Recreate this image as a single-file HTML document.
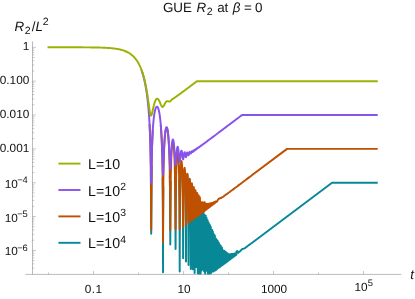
<!DOCTYPE html><html><head><meta charset="utf-8"><title>GUE R2</title><style>html,body{margin:0;padding:0;background:#fff}body{width:415px;height:299px;overflow:hidden;position:relative}</style></head><body>
<svg width="415" height="299" viewBox="0 0 415 299" style="position:absolute;left:0;top:0">
<rect width="415" height="299" fill="#fff"/>
<clipPath id="pc"><rect x="0" y="0" width="415" height="274.55"/></clipPath>
<g fill="none" stroke-width="1.95" stroke-linejoin="round" stroke-linecap="butt" clip-path="url(#pc)">
<path d="M150.84,169.82L151.21,233.70L151.65,165.56M162.65,177.56L162.87,204.20L163.03,272.20L163.09,228.84L163.32,186.72M169.80,175.47L169.95,186.81L170.11,205.22L170.29,244.50L170.42,215.87L170.57,193.11L170.72,180.80M175.02,176.96L175.14,184.28L175.26,194.09L175.38,208.88L175.50,239.47L175.56,249.00L175.61,245.06L175.73,211.47L175.85,196.48L175.96,186.89L176.08,179.92M179.14,179.10L179.24,184.46L179.33,191.13L179.43,199.89L179.53,212.45L179.62,234.69L179.71,271.40L179.81,228.28L179.91,209.90L180.00,198.92L180.09,191.18L180.19,185.29L180.28,180.61L180.37,176.79M182.37,174.86L182.46,177.87L182.54,181.38L182.62,185.54L182.70,190.53L182.78,196.69L182.86,204.63L182.94,215.63L183.03,233.38L183.12,258.20L183.18,245.24L183.26,222.11L183.34,209.51L183.42,200.94L183.50,194.53L183.58,189.49L183.66,185.39L183.73,182.00L183.81,179.17L183.89,176.78L183.96,174.78M185.15,174.47L185.22,176.28L185.29,178.39L185.36,180.83L185.43,183.68L185.50,187.00L185.57,190.91L185.64,195.60L185.71,201.33L185.78,208.60L185.85,218.41L185.92,233.28L185.99,261.50L186.03,261.50L186.06,261.50L186.13,233.78L186.20,219.20L186.27,209.70L186.33,202.73L186.40,197.31L186.47,192.94L186.53,189.33L186.60,186.32L186.67,183.78L186.73,181.65L186.80,179.85L186.87,178.35L186.93,177.11L187.00,176.12L187.06,175.35L187.13,174.79L187.19,174.43L187.26,174.27L187.32,174.29L187.39,174.50L187.45,174.90L187.51,175.49L187.58,176.28L187.64,177.28L187.70,178.49L187.77,179.94L187.83,181.65L187.89,183.64L187.95,185.96L188.02,188.66L188.08,191.81L188.14,195.52L188.20,199.92L188.26,205.28L188.32,212.00L188.39,220.86L188.45,233.69L188.51,256.47L188.55,265.00L188.63,245.41L188.69,228.35L188.75,217.77L188.81,210.19L188.87,204.37L188.93,199.71L188.98,195.89L189.04,192.70L189.10,190.02L189.16,187.75L189.22,185.84L189.28,184.24L189.34,182.92L189.39,181.84L189.45,180.99L189.51,180.35L189.57,179.92L189.62,179.68L189.68,179.63L189.74,179.77L189.79,180.10L189.85,180.61L189.91,181.33L189.96,182.25L190.02,183.38L190.08,184.74L190.13,186.36L190.19,188.25L190.24,190.45L190.30,193.02L190.35,196.01L190.41,199.52L190.46,203.69L190.52,208.72L190.57,214.95L190.63,223.04L190.68,234.32L190.73,252.61L190.79,269.00L190.84,257.34L190.90,237.21L190.95,225.37L191.00,217.12L191.06,210.87L191.11,205.91L191.16,201.86L191.21,198.49L191.27,195.66L191.32,193.27L191.37,191.25L191.42,189.55L191.48,188.13L191.53,186.97L191.58,186.05L191.63,185.34L191.68,184.83L191.73,184.52L191.79,184.41L191.84,184.48L191.89,184.74L191.94,185.19L191.99,185.83L192.04,186.68L192.09,187.74L192.14,189.02L192.19,190.54L192.24,192.34L192.29,194.44L192.34,196.88L192.39,199.73L192.44,203.06L192.49,207.01L192.54,211.74L192.59,217.56L192.64,224.98L192.69,235.05L192.73,250.34L192.78,269.30L192.80,269.30L192.83,269.30L192.88,245.94L192.93,232.66L192.98,223.65L193.02,216.94L193.07,211.66L193.12,207.37L193.17,203.82L193.22,200.84L193.26,198.32L193.31,196.19L193.36,194.39L193.40,192.89L193.45,191.65L193.50,190.65L193.55,189.86L193.59,189.29L193.64,188.92L193.69,188.74L193.73,188.74L193.78,188.94L193.82,189.33L193.87,189.90L193.92,190.68L193.96,191.66L194.01,192.87L194.05,194.31L194.10,196.02L194.14,198.01L194.19,200.34L194.23,203.05L194.28,206.23L194.32,209.97L194.37,214.44L194.41,219.88L194.46,226.74L194.50,235.81L194.55,248.95L194.59,270.98L194.62,273.00L194.64,273.00L194.68,254.64L194.72,239.73L194.77,229.89L194.81,222.67L194.86,217.05L194.90,212.51L194.94,208.77L194.99,205.64L195.03,202.99L195.07,200.75L195.12,198.86L195.16,197.27L195.20,195.95L195.25,194.87L195.29,194.02L195.33,193.38L195.37,192.94L195.42,192.70L195.46,192.64L195.50,192.78L195.54,193.10L195.59,193.61L195.63,194.32L195.67,195.24L195.71,196.37L195.75,197.74L195.80,199.36L195.84,201.26L195.88,203.48L195.92,206.06L195.96,209.08L196.00,212.64L196.04,216.86L196.09,221.97L196.13,228.33L196.17,236.59L196.21,248.08L196.25,265.97L196.29,267.00L196.33,263.22L196.37,246.65L196.41,235.90L196.45,228.14L196.49,222.16L196.53,217.36L196.57,213.42L196.61,210.13L196.65,207.35L196.69,205.00L196.73,203.01L196.77,201.33L196.81,199.93L196.85,198.78L196.89,197.86L196.93,197.16L196.97,196.66L197.01,196.35L197.05,196.24L197.09,196.31L197.12,196.57L197.16,197.03L197.20,197.67L197.24,198.52L197.28,199.58L197.32,200.87L197.36,202.41L197.39,204.22L197.43,206.33L197.47,208.80L197.51,211.68L197.55,215.06L197.59,219.06L197.62,223.87L197.66,229.79L197.70,237.35L197.74,247.55L197.78,262.53L197.82,273.50L197.85,271.19L197.89,253.43L197.93,241.73L197.96,233.39L198.00,227.03L198.04,221.97L198.07,217.82L198.11,214.36L198.15,211.45L198.19,208.99L198.22,206.90L198.26,205.14L198.30,203.66L198.33,202.43L198.37,201.45L198.41,200.68L198.44,200.11L198.48,199.75L198.49,199.67L198.51,199.58L198.55,199.59L198.59,199.79L198.62,200.19L198.66,200.77L198.69,201.56L198.73,202.55L198.77,203.77L198.80,205.22L198.84,206.95L198.87,208.96L198.91,211.32L198.94,214.06L198.98,217.28L199.02,221.07L199.05,225.60L199.09,231.14L199.12,238.09L199.16,247.24L199.19,260.09L199.23,274.30L199.24,266.77L199.92,207.80L200.57,274.30L201.22,206.97L201.81,270.40L202.39,208.21L202.98,269.07L203.56,212.10L204.08,271.26L204.60,215.29L205.12,274.30L205.64,215.47L206.11,269.29L206.55,217.68L207.05,270.96L207.46,219.86L207.95,274.30L208.37,222.00L208.81,274.28L209.28,223.97L209.64,270.64L210.06,225.24L210.43,273.69L210.84,227.00L211.19,272.85L211.49,230.53L211.92,271.02L212.27,229.91L212.62,271.48L212.92,231.69L213.30,271.59L213.57,233.66L213.96,270.62L214.22,234.90L214.59,270.87L214.87,235.49L215.21,270.00L215.52,240.43L215.81,270.01L216.04,238.66L216.38,269.62L216.69,240.37L216.95,269.18L217.21,240.17L217.49,267.91L217.73,241.00L218.03,267.92L218.25,242.61L218.54,267.74L218.77,242.75L219.05,266.99L219.29,247.31L219.54,267.17L219.81,244.60L220.02,266.94L220.20,246.30L220.49,266.47L220.72,245.60L220.94,265.87L221.11,248.04L221.39,265.69L221.63,247.15L221.83,265.61L222.02,247.76L222.26,265.29L222.41,251.27L222.67,264.92L222.93,250.21L223.08,264.45L223.32,250.68L223.48,264.28L223.71,252.76L223.88,264.07L224.10,250.60L224.26,263.63L224.49,251.68L224.64,263.47L224.88,252.67L225.01,263.18L225.14,252.71L225.37,262.94L225.53,251.74L225.73,262.64L225.92,252.09L226.08,262.26L226.31,254.00L226.43,262.11L226.57,253.10L226.76,261.84L226.96,253.64L227.10,261.64L227.22,253.65L227.42,261.40L227.61,253.31L227.74,261.08L227.87,253.73L228.06,260.89L228.26,254.30L228.37,260.68L228.52,254.81L228.68,260.44L228.78,254.92L228.98,260.18L229.17,254.50L229.28,259.99L229.43,254.26L229.57,259.75L229.69,255.10L229.86,259.57L229.95,255.27L230.14,259.34L230.34,255.49L230.42,259.12L230.60,254.67L230.70,258.91L230.86,254.24L230.97,258.73L231.12,254.05L231.24,258.53L231.38,254.00L231.51,258.30L231.64,253.99L231.77,258.13L231.90,254.59L232.03,257.94L232.16,253.99L232.28,257.70L232.42,254.04L232.53,257.52L232.68,254.46L232.78,257.35L232.94,254.54L233.03,257.18L233.20,255.09L233.27,256.98L233.33,255.19L233.51,256.79L233.59,254.32L233.74,256.65L233.85,253.77L233.98,256.47L234.11,253.83L234.21,256.28L234.37,254.57L234.43,256.12L234.50,254.45L234.66,255.94L234.76,253.54L234.88,255.79L235.02,253.72L235.10,255.61L235.15,254.66L235.32,255.46L235.41,253.41L235.54,255.29L235.67,253.49L235.75,255.12L235.80,254.12L235.96,254.98L236.06,253.06L236.17,254.82L236.32,253.73L236.37,254.67L236.50,251.48L237.28,250.93L238.16,252.85L239.72,251.48L240.23,251.14L241.20,250.05L242.41,248.98L243.13,248.90L244.60,248.28L245.17,247.94L246.15,247.13L247.70,246.03L248.43,245.37L249.68,244.64L250.66,243.73L251.56,243.24L251.83,243.04L332.05,182.70L377.72,182.70" stroke="#088896"/>
<path d="M149.55,124.13L149.99,133.64L150.42,146.91L150.84,169.77L151.21,230.00L151.65,165.51L152.05,147.56L152.43,137.17L152.81,130.03M160.74,124.84L160.99,128.02L161.23,131.64L161.47,135.83L161.71,140.73L161.95,146.61L162.19,153.91L162.42,163.48L162.65,177.39L162.87,203.15L163.03,242.14L163.09,223.87L163.32,186.38L163.53,170.49L163.75,160.61L163.96,153.58L164.17,148.22L164.38,143.99L164.59,140.56L164.79,137.75L165.00,135.43L165.20,133.52L165.40,131.95L165.59,130.68L165.79,129.67L165.98,128.91L166.17,128.37L166.36,128.03L166.55,127.90L166.73,127.95L166.91,128.19L167.10,128.61L167.28,129.21L167.46,130.00L167.63,130.98L167.81,132.16L167.98,133.55L168.15,135.16L168.32,137.02L168.49,139.15L168.66,141.58L168.83,144.37L168.99,147.58L169.16,151.29L169.32,155.63L169.48,160.81L169.64,167.16L169.80,175.25L169.95,186.33L170.11,203.62L170.29,230.00L170.42,212.69L170.57,192.37L170.72,180.47L170.87,172.26L171.02,166.12L171.17,161.29L171.31,157.39L171.46,154.18L171.60,151.52L171.75,149.30L171.89,147.45L172.03,145.92L172.17,144.68L172.31,143.69L172.45,142.93L172.58,142.39L172.72,142.06L172.85,141.91L172.99,141.96L173.12,142.19L173.25,142.61L173.39,143.22L173.52,144.01L173.65,145.00L173.78,146.20L173.90,147.62L174.03,149.28L174.16,151.19L174.28,153.40L174.41,155.95L174.53,158.88L174.66,162.27L174.78,166.24L174.90,170.95L175.02,176.64L175.14,183.76L175.26,193.09L175.38,206.27L175.50,225.64L175.56,229.00L175.61,227.51L175.73,208.36L175.85,195.28L175.96,186.24L176.08,179.51L176.19,174.25L176.30,170.00L176.42,166.51L176.53,163.60L176.64,161.17L176.75,159.13L176.86,157.42L176.97,156.01L177.08,154.87L177.19,153.96L177.30,153.28L177.40,152.81L177.51,152.53L177.62,152.44L177.72,152.55L177.83,152.83L177.93,153.31L178.03,153.97L178.14,154.83L178.24,155.89L178.34,157.17L178.44,158.67L178.54,160.43L178.64,162.47L178.74,164.82L178.84,167.54L178.94,170.68L179.04,174.34L179.14,178.65L179.24,183.81L179.33,190.13L179.43,198.10L179.53,208.53L179.62,221.85L179.71,229.59L179.81,218.77L179.91,206.48L180.00,197.19L180.09,190.13L180.19,184.58L180.28,180.09L180.37,176.38L180.46,173.29L180.55,170.69L180.64,168.50L180.73,166.66L180.82,165.12L180.91,163.86L181.00,162.84L181.09,162.04L181.18,161.46L181.27,161.08L181.35,160.89L181.44,160.89L181.53,161.08L181.61,161.45L181.70,162.01L181.79,162.75L181.87,163.70L181.96,164.86L182.04,166.24L182.12,167.87L182.21,169.76L182.29,171.94L182.37,174.46L182.46,177.38L182.54,180.76L182.62,184.72L182.70,189.38L182.78,194.98L182.86,201.79L182.94,210.15L183.03,219.81L183.12,227.02L183.18,223.36L183.26,214.19L183.34,205.61L183.42,198.63L183.50,192.99L183.58,188.37L183.66,184.53L183.73,181.32L183.81,178.60L183.89,176.29L183.96,174.35L184.04,172.71L184.12,171.35L184.19,170.24L184.27,169.35L184.34,168.68L184.42,168.21L184.49,167.94L184.56,167.85L184.64,167.95L184.71,168.23L184.79,168.70L184.86,169.35L184.93,170.20L185.00,171.26L185.08,172.52L185.15,174.02L185.22,175.78L185.29,177.80L185.36,180.15L185.43,182.84L185.50,185.96L185.57,189.56L185.64,193.76L185.71,198.69L185.78,204.47L185.85,211.19L185.92,218.42L185.99,223.99L186.03,224.84L186.06,223.96L186.13,218.50L186.20,211.57L186.27,205.20L186.33,199.77L186.40,195.19L186.47,191.33L186.53,188.05L186.60,185.27L186.67,182.89L186.73,180.87L186.80,179.16L186.87,177.72L186.93,176.53L187.00,175.58L187.06,174.83L187.13,174.29L187.19,173.94L187.26,173.78L187.32,173.80L187.39,174.00L187.45,174.39L187.51,174.95L187.58,175.71L187.64,176.67L187.70,177.83L187.77,179.21L187.83,180.83L187.89,182.70L187.95,184.87L188.02,187.35L188.08,190.20L188.14,193.46L188.20,197.21L188.26,201.50L188.32,206.39L188.39,211.80L188.45,217.32L188.51,221.67L188.55,222.94L188.63,220.13L188.69,215.24L188.75,209.94L188.81,205.02L188.87,200.69L188.93,196.94L188.98,193.70L189.04,190.91L189.10,188.50L189.16,186.44L189.22,184.68L189.28,183.19L189.34,181.95L189.39,180.94L189.45,180.13L189.51,179.53L189.57,179.12L189.62,178.89L189.68,178.84L189.74,178.97L189.79,179.28L189.85,179.77L189.91,180.44L189.96,181.30L190.02,182.35L190.08,183.62L190.13,185.10L190.19,186.83L190.24,188.81L190.30,191.07L190.35,193.66L190.41,196.58L190.46,199.89L190.52,203.60L190.57,207.70L190.63,212.07L190.68,216.35L190.73,219.78L190.79,221.25L190.84,220.14L190.90,217.03L190.95,213.00L191.00,208.85L191.06,204.96L191.11,201.45L191.16,198.35L191.21,195.63L191.27,193.25L191.32,191.19L191.37,189.42L191.42,187.91L191.48,186.63L191.53,185.57L191.58,184.73L191.63,184.07L191.68,183.61L191.73,183.32L191.79,183.21L191.84,183.27L191.89,183.51L191.94,183.92L191.99,184.51L192.04,185.27L192.09,186.22L192.14,187.37L192.19,188.73L192.24,190.30L192.29,192.10L192.34,194.15L192.39,196.47L192.44,199.07L192.49,201.96L192.54,205.14L192.59,208.56L192.64,212.10L192.69,215.47L192.73,218.19L192.78,219.63L192.80,219.74L192.83,219.37L192.88,217.53L192.93,214.67L192.98,211.39L193.02,208.07L193.07,204.94L193.12,202.07L193.17,199.50L193.22,197.21L193.26,195.20L193.31,193.45L193.36,191.94L193.40,190.65L193.45,189.58L193.50,188.70L193.55,188.01L193.59,187.50L193.64,187.16L193.69,187.00L193.73,187.00L193.78,187.17L193.82,187.51L193.87,188.01L193.92,188.69L193.96,189.54L194.01,190.57L194.05,191.79L194.10,193.21L194.14,194.83L194.19,196.67L194.23,198.73L194.28,201.01L194.32,203.52L194.37,206.23L194.41,209.08L194.46,211.95L194.50,214.64L194.55,216.82L194.59,218.13L194.62,218.37L194.64,218.29L194.68,217.27L194.72,215.34L194.77,212.87L194.81,210.18L194.86,207.49L194.90,204.94L194.94,202.58L194.99,200.44L195.03,198.52L195.07,196.83L195.12,195.35L195.16,194.08L195.20,193.00L195.25,192.11L195.29,191.39L195.33,190.85L195.37,190.48L195.42,190.27L195.46,190.22L195.50,190.33L195.54,190.59L195.59,191.02L195.63,191.61L195.67,192.36L195.71,193.28L195.75,194.37L195.80,195.63L195.84,197.08L195.88,198.71L195.92,200.52L195.96,202.51L196.00,204.67L196.04,206.96L196.09,209.33L196.13,211.68L196.17,213.84L196.21,215.62L196.25,216.77L196.29,217.12L196.33,216.61L196.37,215.35L196.41,213.55L196.45,211.45L196.49,209.23L196.53,207.03L196.57,204.94L196.61,202.99L196.65,201.21L196.69,199.61L196.73,198.19L196.77,196.96L196.81,195.90L196.85,195.01L196.89,194.29L196.93,193.72L196.97,193.32L197.01,193.07L197.05,192.97L197.09,193.03L197.12,193.23L197.16,193.58L197.20,194.09L197.24,194.74L197.28,195.55L197.32,196.51L197.36,197.63L197.39,198.90L197.43,200.33L197.47,201.92L197.51,203.64L197.55,205.49L197.59,207.42L197.62,209.39L197.66,211.31L197.70,213.08L197.74,214.53L197.78,215.54L197.82,215.97L197.85,215.75L197.89,214.95L197.93,213.68L197.96,212.08L198.00,210.30L198.04,208.46L198.07,206.65L198.11,204.92L198.15,203.31L198.19,201.83L198.22,200.50L198.26,199.33L198.30,198.31L198.33,197.44L198.37,196.72L198.38,196.52L198.41,196.15L198.44,195.73L198.48,195.45L198.51,195.31L198.55,195.32L198.59,195.46L198.62,195.75L198.66,196.17L198.69,196.73L198.73,197.43L198.77,198.27L198.80,199.25L198.84,200.37L198.87,201.61L198.91,202.98L198.94,204.46L198.98,206.03L199.02,207.66L199.05,209.30L199.09,210.89L199.12,212.34L199.16,213.54L199.19,214.41L199.23,214.85L199.24,214.87L199.88,197.27L200.57,213.89L201.08,202.18L201.81,212.95L202.28,202.32L202.98,212.07L203.48,202.47L204.08,211.24L204.68,202.34L205.12,210.46L205.58,204.63L206.11,209.73L206.48,203.72L207.05,209.01L207.38,204.22L207.95,208.34L208.28,203.79L208.81,207.69L209.18,204.82L209.64,207.08L210.08,203.26L210.43,206.48L210.68,203.84L211.19,205.91L211.58,202.94L211.92,205.36L212.18,203.09L212.62,204.83L213.08,202.96L213.30,204.32L213.68,202.31L213.96,203.83L214.28,201.96L214.59,203.35L215.15,202.62L215.94,201.24L216.38,202.01L217.41,200.83L218.34,199.14L218.81,198.76L219.71,198.52L220.66,197.96L221.47,197.95L222.13,197.21L223.02,196.88L223.83,196.34L224.48,195.48L225.43,195.12L226.19,194.40L227.05,193.93L227.76,193.44L228.48,192.76L229.32,192.24L230.36,191.43L230.80,191.05L231.58,190.50L232.32,190.00L233.52,189.11L234.39,188.44L234.83,188.10L235.64,187.47L236.41,186.93L237.40,186.19L238.15,185.63L239.11,184.90L239.61,184.52L240.74,183.68L241.34,183.22L242.30,182.50L243.10,181.91L243.95,181.27L244.55,180.81L245.41,180.17L246.18,179.59L246.80,179.12L247.75,178.40L248.76,177.65L249.55,177.05L249.92,176.77L251.03,175.94L251.67,175.46L251.83,175.34L287.05,148.85L377.72,148.85" stroke="#be5000"/>
<path d="M141.47,70.18L142.06,71.87L142.70,73.88L143.32,76.03L143.93,78.32L144.51,80.78L145.08,83.42L145.63,86.27L146.16,89.35L146.68,92.72L147.19,96.42L147.69,100.53L148.17,105.14L148.64,110.40L149.10,116.53L149.55,123.90L149.99,133.18L150.42,145.78L150.84,164.97L151.21,183.33L151.65,161.64L152.05,146.29L152.43,136.51L152.81,129.61L153.19,124.44L153.55,120.41L153.91,117.21L154.26,114.63L154.61,112.54L154.95,110.86L155.28,109.52L155.61,108.47L155.93,107.69L156.25,107.14L156.56,106.81L156.87,106.67L157.17,106.73L157.47,106.96L157.77,107.37L158.06,107.96L158.34,108.71L158.62,109.64L158.90,110.75L159.17,112.04L159.44,113.52L159.71,115.21L159.97,117.12L160.23,119.27L160.48,121.69L160.74,124.41L160.99,127.47L161.23,130.94L161.47,134.89L161.71,139.42L161.95,144.67L162.19,150.81L162.42,157.96L162.65,165.89L162.87,172.72L163.03,174.44L163.09,174.03L163.32,168.99L163.53,162.04L163.75,155.65L163.96,150.28L164.17,145.84L164.38,142.14L164.59,139.07L164.79,136.49L165.00,134.34L165.20,132.54L165.40,131.06L165.59,129.85L165.79,128.89L165.98,128.16L166.17,127.64L166.36,127.32L166.55,127.18L166.73,127.22L166.91,127.44L167.10,127.84L167.28,128.40L167.46,129.14L167.63,130.05L167.81,131.15L167.98,132.43L168.15,133.91L168.32,135.59L168.49,137.50L168.66,139.64L168.83,142.04L168.99,144.70L169.16,147.65L169.32,150.90L169.48,154.42L169.64,158.14L169.80,161.90L169.95,165.35L170.11,167.90L170.29,168.98L170.42,168.29L170.57,166.20L170.72,163.32L170.87,160.18L171.02,157.11L171.17,154.25L171.31,151.68L171.46,149.40L171.60,147.40L171.75,145.67L171.89,144.19L172.03,142.93L172.17,141.89L172.31,141.05L172.45,140.40L172.58,139.93L172.72,139.63L172.85,139.49L172.99,139.52L173.12,139.70L173.25,140.03L173.39,140.52L173.52,141.16L173.65,141.96L173.78,142.90L173.90,144.01L174.03,145.26L174.16,146.67L174.28,148.24L174.41,149.95L174.53,151.80L174.66,153.76L174.78,155.80L174.90,157.88L175.02,159.89L175.14,161.75L175.26,163.31L175.38,164.42L175.50,164.97L175.56,165.01L175.61,164.91L175.73,164.28L175.85,163.19L175.96,161.77L176.08,160.18L176.19,158.51L176.30,156.87L176.42,155.29L176.53,153.82L176.64,152.48L176.75,151.28L176.86,150.23L176.97,149.32L177.08,148.55L177.19,147.93L177.30,147.45L177.40,147.10L177.51,146.89L177.62,146.80L177.72,146.85L177.83,147.02L177.93,147.31L178.03,147.72L178.14,148.24L178.24,148.89L178.34,149.63L178.44,150.49L178.54,151.43L178.64,152.46L178.74,153.57L178.84,154.72L178.94,155.91L179.04,157.10L179.14,158.25L179.24,159.32L179.33,160.26L179.43,161.02L179.53,161.56L179.62,161.85L179.71,161.89L179.81,161.66L179.91,161.20L180.00,160.55L180.09,159.76L180.19,158.87L180.28,157.93L180.37,156.97L180.46,156.04L180.55,155.14L180.64,154.30L180.73,153.53L180.82,152.84L180.91,152.24L181.00,151.74L181.09,151.32L181.18,151.01L181.27,150.78L181.35,150.66L181.44,150.62L181.53,150.68L181.61,150.83L181.70,151.07L181.79,151.38L181.87,151.78L181.96,152.24L182.04,152.78L182.12,153.36L182.21,154.00L182.29,154.67L182.37,155.36L182.46,156.05L182.54,156.72L182.62,157.36L182.70,157.94L182.78,158.45L182.86,158.85L182.94,159.14L183.03,159.30L183.12,159.32L183.18,159.24L183.26,159.02L183.34,158.69L183.42,158.27L183.50,157.78L183.58,157.24L183.66,156.68L183.73,156.10L183.81,155.52L183.89,154.97L183.96,154.45L184.04,153.96L184.12,153.53L184.19,153.15L184.27,152.83L184.34,152.57L184.42,152.38L184.49,152.25L184.56,152.18L184.64,152.18L184.71,152.24L184.79,152.36L184.86,152.53L184.93,152.76L185.00,153.03L185.08,153.35L185.15,153.70L185.22,154.08L185.29,154.48L185.36,154.88L185.43,155.28L185.50,155.68L185.57,156.04L185.64,156.37L185.71,156.65L185.78,156.88L185.85,157.04L185.92,157.14L185.99,157.16L186.03,157.14L186.06,157.10L186.13,156.98L186.20,156.80L186.27,156.56L186.33,156.27L186.40,155.95L186.47,155.60L186.53,155.24L186.60,154.87L186.67,154.50L186.73,154.15L186.80,153.82L186.87,153.51L186.93,153.23L187.00,152.99L187.06,152.79L187.13,152.63L187.19,152.51L187.26,152.44L187.32,152.41L187.39,152.42L187.45,152.47L187.51,152.56L187.58,152.68L187.64,152.84L187.70,153.02L187.77,153.23L187.83,153.45L187.89,153.69L187.95,153.93L188.02,154.17L188.08,154.40L188.14,154.61L188.20,154.81L188.26,154.97L188.32,155.10L188.39,155.20L188.45,155.25L188.51,155.26L188.55,155.24L188.63,155.15L188.69,155.04L188.75,154.89L188.81,154.71L188.87,154.50L188.93,154.28L188.98,154.04L189.04,153.79L189.10,153.54L189.16,153.30L189.22,153.07L189.28,152.85L189.34,152.65L189.39,152.47L189.45,152.31L189.51,152.18L189.57,152.08L189.62,152.01L189.68,151.96L189.74,151.95L189.79,151.96L189.85,152.00L189.91,152.06L189.96,152.15L190.02,152.25L190.08,152.37L190.13,152.50L190.19,152.64L190.24,152.79L190.30,152.93L190.35,153.07L190.41,153.20L190.46,153.32L190.52,153.42L190.57,153.50L190.63,153.55L190.68,153.58L190.73,153.58L190.79,153.55L190.84,153.51L190.90,153.43L190.95,153.33L191.00,153.21L191.06,153.07L191.11,152.91L191.16,152.75L191.21,152.58L191.27,152.40L191.32,152.23L191.37,152.06L191.42,151.90L191.48,151.75L191.53,151.61L191.58,151.49L191.63,151.39L191.68,151.30L191.73,151.23L191.79,151.19L191.84,151.16L191.89,151.15L191.94,151.16L191.99,151.19L192.04,151.24L192.09,151.29L192.14,151.36L192.19,151.44L192.24,151.52L192.29,151.61L192.34,151.70L192.39,151.78L192.44,151.86L192.49,151.93L192.54,151.99L192.59,152.03L192.64,152.07L192.69,152.08L192.73,152.08L192.78,152.06L192.80,152.04L192.83,152.02L192.88,151.96L192.93,151.89L192.98,151.80L193.02,151.70L193.07,151.59L193.12,151.47L193.17,151.35L193.22,151.22L193.26,151.09L193.31,150.97L193.36,150.85L193.40,150.73L193.45,150.62L193.50,150.53L193.55,150.44L193.59,150.37L193.64,150.31L193.69,150.26L193.73,150.23L193.78,150.22L193.82,150.21L193.87,150.22L193.92,150.24L193.96,150.26L194.01,150.30L194.05,150.35L194.10,150.39L194.14,150.44L194.19,150.50L194.23,150.55L194.28,150.59L194.32,150.64L194.37,150.67L194.41,150.70L194.46,150.71L194.50,150.72L194.55,150.71L194.59,150.69L194.62,150.67L194.64,150.66L194.68,150.62L194.72,150.56L194.77,150.50L194.81,150.42L194.86,150.34L194.90,150.25L194.94,150.16L194.99,150.06L195.03,149.96L195.07,149.87L195.12,149.77L195.16,149.68L195.20,149.60L195.25,149.52L195.29,149.45L195.33,149.38L195.37,149.33L195.42,149.29L195.46,149.26L195.50,149.23L195.54,149.22L195.59,149.21L195.63,149.22L195.67,149.23L195.71,149.25L195.75,149.27L195.80,149.30L195.84,149.32L195.88,149.35L195.92,149.38L195.96,149.41L196.00,149.44L196.04,149.45L196.09,149.47L196.13,149.47L196.17,149.47L196.21,149.46L196.25,149.45L196.29,149.42L196.33,149.38L196.37,149.34L196.41,149.29L196.45,149.23L196.49,149.17L196.53,149.10L196.57,149.02L196.61,148.95L196.65,148.87L196.69,148.79L196.73,148.72L196.77,148.64L196.81,148.58L196.85,148.51L196.89,148.45L196.93,148.40L196.97,148.35L197.01,148.31L197.05,148.28L197.09,148.25L197.12,148.23L197.16,148.22L197.20,148.22L197.24,148.22L197.28,148.22L197.32,148.23L197.36,148.24L197.39,148.26L197.43,148.27L197.47,148.29L197.51,148.30L197.55,148.32L197.59,148.33L197.62,148.33L197.66,148.33L197.70,148.33L197.74,148.31L197.78,148.30L197.82,148.27L197.85,148.24L197.89,148.21L197.93,148.16L197.96,148.12L198.00,148.07L198.04,148.01L198.07,147.95L198.11,147.89L198.15,147.83L198.19,147.76L198.22,147.70L198.26,147.64L198.30,147.58L198.33,147.53L198.37,147.48L198.41,147.43L198.44,147.39L198.48,147.35L198.49,147.34L198.51,147.32L198.55,147.29L198.59,147.27L198.62,147.26L198.66,147.25L198.69,147.24L198.73,147.24L198.77,147.24L198.80,147.24L198.84,147.25L198.87,147.25L198.91,147.26L198.94,147.27L198.98,147.27L199.02,147.27L199.05,147.27L199.09,147.27L199.12,147.26L199.16,147.25L199.19,147.23L199.23,147.21L199.24,147.20L199.92,146.37L200.57,146.20L201.22,145.46L201.81,145.27L202.39,144.64L202.98,144.39L203.56,143.80L204.08,143.56L204.60,143.04L205.12,142.77L205.64,142.29L206.11,142.03L206.55,141.62L207.05,141.32L207.46,140.95L207.95,140.65L208.37,140.27L208.81,140.00L209.28,139.60L209.64,139.38L210.06,139.02L210.43,138.79L210.84,138.44L211.19,138.21L211.49,137.96L211.92,137.66L212.27,137.37L212.62,137.13L212.92,136.89L213.30,136.62L213.57,136.40L213.96,136.13L214.22,135.92L214.59,135.65L214.87,135.43L215.21,135.19L215.52,134.94L215.81,134.74L216.04,134.55L216.38,134.30L216.69,134.06L216.95,133.88L217.21,133.67L217.49,133.47L217.73,133.28L218.03,133.07L218.39,132.78L219.03,132.31L219.64,131.85L220.04,131.56L220.59,131.14L221.15,130.71L221.62,130.36L222.09,130.00L222.61,129.62L223.11,129.24L223.44,128.99L224.01,128.56L224.47,128.22L224.95,127.86L225.54,127.41L225.96,127.10L226.55,126.65L227.04,126.29L227.40,126.02L228.00,125.57L228.48,125.20L229.08,124.75L229.39,124.52L229.92,124.12L230.52,123.67L230.99,123.32L231.57,122.88L231.97,122.58L232.43,122.24L233.15,121.69L233.44,121.47L233.91,121.12L234.45,120.71L234.97,120.32L235.43,119.97L236.03,119.53L236.65,119.06L236.90,118.87L237.49,118.43L238.07,117.99L238.63,117.57L239.17,117.17L239.41,116.98L240.03,116.52L240.63,116.06L240.88,115.88L241.54,115.38L241.92,115.10L242.05,115.00L242.60,115.00L243.15,115.00L243.53,115.00L243.87,115.00L244.39,115.00L244.99,115.00L245.62,115.00L245.94,115.00L246.57,115.00L246.99,115.00L247.45,115.00L248.08,115.00L248.46,115.00L248.98,115.00L249.60,115.00L250.02,115.00L250.60,115.00L251.02,115.00L251.41,115.00L251.83,115.00L377.72,115.00" stroke="#8853ec"/>
<path d="M47.50,47.30L48.09,47.30L48.68,47.30L49.27,47.30L49.86,47.30L50.45,47.30L51.04,47.30L51.63,47.30L52.23,47.30L52.82,47.30L53.41,47.30L54.00,47.30L54.59,47.30L55.18,47.30L55.77,47.30L56.36,47.30L56.95,47.30L57.55,47.30L58.14,47.30L58.73,47.30L59.32,47.30L59.91,47.30L60.50,47.30L61.09,47.30L61.68,47.30L62.27,47.30L62.86,47.30L63.46,47.31L64.05,47.31L64.64,47.31L65.23,47.31L65.82,47.31L66.41,47.31L67.00,47.31L67.59,47.31L68.18,47.31L68.77,47.31L69.37,47.31L69.96,47.31L70.55,47.31L71.14,47.31L71.73,47.31L72.32,47.31L72.91,47.32L73.50,47.32L74.09,47.32L74.69,47.32L75.28,47.32L75.87,47.32L76.46,47.32L77.05,47.32L77.64,47.33L78.23,47.33L78.82,47.33L79.41,47.33L80.00,47.33L80.60,47.34L81.19,47.34L81.78,47.34L82.37,47.34L82.96,47.35L83.55,47.35L84.14,47.35L84.73,47.36L85.32,47.36L85.91,47.36L86.51,47.37L87.10,47.37L87.69,47.38L88.28,47.38L88.87,47.39L89.46,47.39L90.05,47.40L90.64,47.40L91.23,47.41L91.83,47.42L92.42,47.42L93.01,47.43L93.60,47.44L94.19,47.45L94.78,47.46L95.37,47.47L95.96,47.48L96.55,47.49L97.14,47.50L97.74,47.52L98.33,47.53L98.92,47.55L99.51,47.56L100.10,47.58L100.69,47.60L101.28,47.62L101.87,47.64L102.46,47.66L103.05,47.68L103.65,47.70L104.24,47.73L104.83,47.76L105.42,47.79L106.01,47.82L106.60,47.85L107.19,47.88L107.78,47.92L108.37,47.96L108.97,48.00L109.56,48.05L110.15,48.09L110.74,48.14L111.33,48.20L111.92,48.25L112.51,48.31L113.10,48.38L113.69,48.45L114.28,48.52L114.88,48.60L115.47,48.68L116.06,48.77L116.65,48.86L117.24,48.96L117.83,49.06L118.42,49.17L119.01,49.29L119.60,49.42L120.19,49.55L120.79,49.70L121.38,49.85L121.97,50.01L122.56,50.19L123.15,50.37L123.74,50.57L124.33,50.77L124.92,51.00L125.51,51.23L126.11,51.48L126.70,51.75L127.29,52.04L127.88,52.34L128.47,52.67L129.06,53.02L129.65,53.39L130.24,53.78L130.83,54.21L131.42,54.66L132.02,55.14L132.61,55.65L133.20,56.20L133.79,56.79L134.38,57.42L134.97,58.09L135.56,58.81L136.15,59.59L136.74,60.42L137.33,61.31L137.93,62.26L138.52,63.29L139.11,64.40L139.70,65.60L140.29,66.88L140.88,68.28L141.47,69.78L142.06,71.41L142.70,73.34L143.32,75.38L143.93,77.55L144.51,79.84L145.08,82.27L145.63,84.85L146.16,87.58L146.68,90.47L147.19,93.52L147.69,96.72L148.17,100.03L148.64,103.41L149.10,106.75L149.55,109.87L149.99,112.55L150.42,114.51L150.84,115.54L151.21,115.63L151.65,114.82L152.05,113.48L152.43,111.82L152.81,110.06L153.19,108.32L153.55,106.68L153.91,105.19L154.26,103.85L154.61,102.69L154.95,101.68L155.28,100.84L155.61,100.15L155.93,99.59L156.25,99.17L156.56,98.88L156.87,98.71L157.17,98.64L157.47,98.68L157.77,98.82L158.06,99.04L158.34,99.35L158.62,99.73L158.90,100.18L159.17,100.68L159.44,101.23L159.71,101.82L159.97,102.44L160.23,103.06L160.48,103.69L160.74,104.29L160.99,104.87L161.23,105.39L161.47,105.86L161.71,106.25L161.95,106.55L162.19,106.77L162.42,106.88L162.65,106.91L162.87,106.84L163.03,106.74L163.09,106.69L163.32,106.46L163.53,106.17L163.75,105.84L163.96,105.47L164.17,105.08L164.38,104.67L164.59,104.27L164.79,103.87L165.00,103.48L165.20,103.12L165.40,102.78L165.59,102.48L165.79,102.20L165.98,101.96L166.17,101.75L166.36,101.58L166.55,101.44L166.73,101.33L166.91,101.25L167.10,101.20L167.28,101.18L167.46,101.18L167.63,101.20L167.81,101.23L167.98,101.28L168.15,101.33L168.32,101.39L168.49,101.45L168.66,101.51L168.83,101.56L168.99,101.60L169.16,101.62L169.32,101.63L169.48,101.62L169.64,101.60L169.80,101.55L169.95,101.49L170.11,101.38L170.29,101.23L170.42,101.11L170.57,100.95L170.72,100.79L170.87,100.63L171.02,100.46L171.17,100.29L171.31,100.13L171.46,99.97L171.60,99.82L171.75,99.67L171.89,99.54L172.03,99.41L172.17,99.29L172.31,99.18L172.45,99.08L172.58,98.98L172.72,98.89L172.85,98.81L172.99,98.73L173.12,98.66L173.25,98.59L173.39,98.51L173.52,98.44L173.65,98.36L173.78,98.28L173.90,98.20L174.03,98.12L174.16,98.04L174.28,97.96L174.41,97.88L174.53,97.80L174.66,97.72L174.78,97.64L174.90,97.56L175.02,97.48L175.14,97.40L175.26,97.32L175.38,97.24L175.50,97.16L175.56,97.11L175.61,97.07L175.73,96.99L175.85,96.90L175.96,96.82L176.08,96.73L176.19,96.65L176.30,96.57L176.42,96.48L176.53,96.40L176.64,96.31L176.75,96.23L176.86,96.15L176.97,96.06L177.08,95.98L177.19,95.90L177.30,95.82L177.40,95.74L177.51,95.67L177.62,95.59L177.72,95.51L177.83,95.44L177.93,95.36L178.03,95.29L178.14,95.22L178.24,95.15L178.34,95.07L178.44,95.00L178.54,94.93L178.64,94.86L178.74,94.79L178.84,94.72L178.94,94.65L179.04,94.59L179.14,94.52L179.24,94.45L179.33,94.38L179.43,94.31L179.53,94.24L179.62,94.17L179.71,94.11L179.81,94.03L179.91,93.96L180.00,93.89L180.09,93.82L180.19,93.75L180.28,93.68L180.37,93.61L180.46,93.54L180.55,93.47L180.64,93.40L180.73,93.34L180.82,93.27L180.91,93.20L181.00,93.13L181.09,93.07L181.18,93.00L181.27,92.94L181.35,92.87L181.44,92.81L181.53,92.74L181.61,92.68L181.70,92.62L181.79,92.55L181.87,92.49L181.96,92.43L182.04,92.37L182.12,92.31L182.21,92.25L182.29,92.19L182.37,92.13L182.46,92.07L182.54,92.01L182.62,91.95L182.70,91.89L182.78,91.83L182.86,91.77L182.94,91.71L183.03,91.65L183.12,91.58L183.18,91.53L183.26,91.48L183.34,91.42L183.42,91.36L183.50,91.30L183.58,91.24L183.66,91.18L183.73,91.12L183.81,91.06L183.89,91.01L183.96,90.95L184.04,90.89L184.12,90.83L184.19,90.78L184.27,90.72L184.34,90.66L184.42,90.61L184.49,90.55L184.56,90.50L184.64,90.44L184.71,90.39L184.79,90.33L184.86,90.28L184.93,90.22L185.00,90.17L185.08,90.12L185.15,90.06L185.22,90.01L185.29,89.96L185.36,89.91L185.43,89.85L185.50,89.80L185.57,89.75L185.64,89.70L185.71,89.65L185.78,89.60L185.85,89.54L185.92,89.49L185.99,89.44L186.03,89.42L186.06,89.39L186.13,89.34L186.20,89.29L186.27,89.24L186.33,89.19L186.40,89.13L186.47,89.08L186.53,89.03L186.60,88.98L186.67,88.93L186.73,88.88L186.80,88.83L186.87,88.78L186.93,88.73L187.00,88.68L187.06,88.63L187.13,88.59L187.19,88.54L187.26,88.49L187.32,88.44L187.39,88.39L187.45,88.34L187.51,88.30L187.58,88.25L187.64,88.20L187.70,88.16L187.77,88.11L187.83,88.06L187.89,88.02L187.95,87.97L188.02,87.92L188.08,87.88L188.14,87.83L188.20,87.79L188.26,87.74L188.32,87.70L188.39,87.65L188.45,87.60L188.51,87.56L188.55,87.52L188.63,87.47L188.69,87.42L188.75,87.38L188.81,87.33L188.87,87.29L188.93,87.24L188.98,87.20L189.04,87.16L189.10,87.11L189.16,87.07L189.22,87.02L189.28,86.98L189.34,86.93L189.39,86.89L189.45,86.85L189.51,86.80L189.57,86.76L189.62,86.72L189.68,86.68L189.74,86.63L189.79,86.59L189.85,86.55L189.91,86.51L189.96,86.46L190.02,86.42L190.08,86.38L190.13,86.34L190.19,86.30L190.24,86.26L190.30,86.21L190.35,86.17L190.41,86.13L190.46,86.09L190.52,86.05L190.57,86.01L190.63,85.97L190.68,85.93L190.73,85.89L190.79,85.84L190.84,85.81L190.90,85.77L190.95,85.73L191.00,85.69L191.06,85.65L191.11,85.61L191.16,85.57L191.21,85.53L191.27,85.49L191.32,85.45L191.37,85.41L191.42,85.37L191.48,85.33L191.53,85.29L191.58,85.25L191.63,85.21L191.68,85.17L191.73,85.14L191.79,85.10L191.84,85.06L191.89,85.02L191.94,84.98L191.99,84.94L192.04,84.91L192.09,84.87L192.14,84.83L192.19,84.79L192.24,84.76L192.29,84.72L192.34,84.68L192.39,84.65L192.44,84.61L192.49,84.57L192.54,84.53L192.59,84.50L192.64,84.46L192.69,84.42L192.73,84.39L192.78,84.35L192.80,84.34L192.83,84.31L192.88,84.28L192.93,84.24L192.98,84.21L193.02,84.17L193.07,84.13L193.12,84.10L193.17,84.06L193.22,84.03L193.26,83.99L193.31,83.95L193.36,83.92L193.40,83.88L193.45,83.85L193.50,83.81L193.55,83.78L193.59,83.74L193.64,83.71L193.69,83.67L193.73,83.64L193.78,83.60L193.82,83.57L193.87,83.53L193.92,83.50L193.96,83.46L194.01,83.43L194.05,83.40L194.10,83.36L194.14,83.33L194.19,83.29L194.23,83.26L194.28,83.23L194.32,83.19L194.37,83.16L194.41,83.13L194.46,83.09L194.50,83.06L194.55,83.03L194.59,82.99L194.62,82.97L194.64,82.96L194.68,82.93L194.72,82.89L194.77,82.86L194.81,82.83L194.86,82.79L194.90,82.76L194.94,82.73L194.99,82.69L195.03,82.66L195.07,82.63L195.12,82.60L195.16,82.56L195.20,82.53L195.25,82.50L195.29,82.47L195.33,82.44L195.37,82.40L195.42,82.37L195.46,82.34L195.50,82.31L195.54,82.28L195.59,82.24L195.63,82.21L195.67,82.18L195.71,82.15L195.75,82.12L195.80,82.09L195.84,82.06L195.88,82.02L195.92,81.99L195.96,81.96L196.00,81.93L196.04,81.90L196.09,81.87L196.13,81.84L196.17,81.81L196.21,81.78L196.25,81.75L196.29,81.72L196.33,81.69L196.37,81.66L196.41,81.63L196.45,81.59L196.49,81.56L196.53,81.53L196.57,81.50L196.61,81.47L196.65,81.44L196.69,81.41L196.73,81.38L196.77,81.35L196.81,81.32L196.85,81.29L196.89,81.26L196.93,81.24L196.97,81.21L197.01,81.18L197.05,81.15L197.09,81.15L197.12,81.15L197.16,81.15L197.20,81.15L197.24,81.15L197.28,81.15L197.32,81.15L197.36,81.15L197.39,81.15L197.43,81.15L197.47,81.15L197.51,81.15L197.55,81.15L197.59,81.15L197.62,81.15L197.66,81.15L197.70,81.15L197.74,81.15L197.78,81.15L197.82,81.15L197.85,81.15L197.89,81.15L197.93,81.15L197.96,81.15L198.00,81.15L198.04,81.15L198.07,81.15L198.11,81.15L198.15,81.15L198.19,81.15L198.22,81.15L198.26,81.15L198.30,81.15L198.33,81.15L198.37,81.15L198.41,81.15L198.44,81.15L198.48,81.15L198.49,81.15L198.51,81.15L198.55,81.15L198.59,81.15L198.62,81.15L198.66,81.15L198.69,81.15L198.73,81.15L198.77,81.15L198.80,81.15L198.84,81.15L198.87,81.15L198.91,81.15L198.94,81.15L198.98,81.15L199.02,81.15L199.05,81.15L199.09,81.15L199.12,81.15L199.16,81.15L199.19,81.15L199.23,81.15L199.24,81.15L199.92,81.15L200.57,81.15L201.22,81.15L201.81,81.15L202.39,81.15L202.98,81.15L203.56,81.15L204.08,81.15L204.60,81.15L205.12,81.15L205.64,81.15L206.11,81.15L206.55,81.15L207.05,81.15L207.46,81.15L207.95,81.15L208.37,81.15L208.81,81.15L209.28,81.15L209.64,81.15L210.06,81.15L210.43,81.15L210.84,81.15L211.19,81.15L211.49,81.15L211.92,81.15L212.27,81.15L212.62,81.15L212.92,81.15L213.30,81.15L213.57,81.15L213.96,81.15L214.22,81.15L214.59,81.15L214.87,81.15L215.21,81.15L215.52,81.15L215.81,81.15L216.04,81.15L216.38,81.15L216.69,81.15L216.95,81.15L217.21,81.15L217.49,81.15L217.73,81.15L218.03,81.15L218.63,81.15L219.04,81.15L219.51,81.15L220.10,81.15L220.38,81.15L221.08,81.15L221.48,81.15L221.89,81.15L222.56,81.15L223.15,81.15L223.43,81.15L224.06,81.15L224.46,81.15L225.09,81.15L225.58,81.15L225.93,81.15L226.62,81.15L227.06,81.15L227.57,81.15L228.11,81.15L228.50,81.15L229.09,81.15L229.63,81.15L229.90,81.15L230.62,81.15L230.98,81.15L231.51,81.15L231.91,81.15L232.58,81.15L232.95,81.15L233.63,81.15L233.95,81.15L234.54,81.15L234.99,81.15L235.55,81.15L235.93,81.15L236.42,81.15L237.09,81.15L237.59,81.15L238.04,81.15L238.64,81.15L238.93,81.15L239.62,81.15L239.92,81.15L240.66,81.15L241.05,81.15L241.55,81.15L242.16,81.15L242.60,81.15L243.10,81.15L243.38,81.15L243.98,81.15L244.39,81.15L244.92,81.15L245.43,81.15L246.12,81.15L246.40,81.15L246.96,81.15L247.51,81.15L248.12,81.15L248.66,81.15L249.08,81.15L249.43,81.15L250.03,81.15L250.58,81.15L250.88,81.15L251.57,81.15L251.83,81.15L377.72,81.15" stroke="#9bb204"/>
</g>
<g stroke="#777" stroke-width="0.5" fill="none">
<path d="M25.3,274.4H401.3"/>
<path d="M32.5,41.5V274.4"/>
</g>
<g stroke="#777" stroke-width="0.4" fill="none">
<path d="M48.50,274.4v-2.0M93.50,274.4v-3.4M138.50,274.4v-2.0M183.50,274.4v-3.4M228.50,274.4v-2.0M273.50,274.4v-3.4M318.50,274.4v-2.0M363.50,274.4v-3.4"/>
<path d="M32.5,47.30h3.4M32.5,70.96h1.8M32.5,65.00h1.8M32.5,60.77h1.8M32.5,57.49h2.1M32.5,54.81h1.8M32.5,52.54h1.8M32.5,50.58h1.8M32.5,48.85h1.8M32.5,81.15h3.4M32.5,104.81h1.8M32.5,98.85h1.8M32.5,94.62h1.8M32.5,91.34h2.1M32.5,88.66h1.8M32.5,86.39h1.8M32.5,84.43h1.8M32.5,82.70h1.8M32.5,115.00h3.4M32.5,138.66h1.8M32.5,132.70h1.8M32.5,128.47h1.8M32.5,125.19h2.1M32.5,122.51h1.8M32.5,120.24h1.8M32.5,118.28h1.8M32.5,116.55h1.8M32.5,148.85h3.4M32.5,172.51h1.8M32.5,166.55h1.8M32.5,162.32h1.8M32.5,159.04h2.1M32.5,156.36h1.8M32.5,154.09h1.8M32.5,152.13h1.8M32.5,150.40h1.8M32.5,182.70h3.4M32.5,206.36h1.8M32.5,200.40h1.8M32.5,196.17h1.8M32.5,192.89h2.1M32.5,190.21h1.8M32.5,187.94h1.8M32.5,185.98h1.8M32.5,184.25h1.8M32.5,216.55h3.4M32.5,240.21h1.8M32.5,234.25h1.8M32.5,230.02h1.8M32.5,226.74h2.1M32.5,224.06h1.8M32.5,221.79h1.8M32.5,219.83h1.8M32.5,218.10h1.8M32.5,250.40h3.4M32.5,268.10h1.8M32.5,263.87h1.8M32.5,260.59h2.1M32.5,257.91h1.8M32.5,255.64h1.8M32.5,253.68h1.8M32.5,251.95h1.8"/>
</g>
<g fill="none" stroke-width="1.9">
<path d="M58.4,163.6H80.5" stroke="#9bb204"/>
<path d="M58.4,190.0H80.5" stroke="#8853ec"/>
<path d="M58.4,216.4H80.5" stroke="#be5000"/>
<path d="M58.4,242.8H80.5" stroke="#088896"/>
</g>
<g font-family="Liberation Sans, sans-serif" fill="#111" style="filter:grayscale(1);text-rendering:geometricPrecision">
<text x="162.9" y="12.0" font-size="13.4">GUE <tspan font-style="italic" dx="0.8">R</tspan><tspan font-size="10.6" dy="2.8" dx="0.6">2</tspan><tspan dy="-2.8" dx="0.8"> at </tspan><tspan font-style="italic" dx="0.6">β</tspan> = <tspan dx="-0.6">0</tspan></text>
<text x="14.5" y="30.8" font-size="13.4"><tspan font-style="italic">R</tspan><tspan font-size="10.6" dy="2.7" dx="0.7">2</tspan><tspan dy="-2.7" dx="1.0">/</tspan><tspan font-style="italic">L</tspan><tspan font-size="10.6" dy="-6.0" dx="-0.2">2</tspan></text>
<text x="410.3" y="279.0" font-size="13.4" font-style="italic">t</text>
<text x="93.4" y="292.6" font-size="11.8" text-anchor="middle">0<tspan dx="0.6">.</tspan><tspan dx="0.5">1</tspan></text>
<text x="184.1" y="292.6" font-size="11.8" text-anchor="middle">10</text>
<text x="274.0" y="292.6" font-size="11.8" text-anchor="middle">1000</text>
<text x="354.4" y="290.5" font-size="11.8">10<tspan font-size="9.4" dy="-5.0" dx="0.2">5</tspan></text>
<text x="29.3" y="50.4" font-size="11.8" text-anchor="end">1</text>
<text x="29.3" y="84.2" font-size="11.8" text-anchor="end">0.100</text>
<text x="29.3" y="118.1" font-size="11.8" text-anchor="end">0.010</text>
<text x="29.3" y="152.0" font-size="11.8" text-anchor="end">0.001</text>
<text x="4.7" y="187.7" font-size="11.8">10<tspan font-size="9.4" dy="-4.7" dx="-0.5">−</tspan><tspan font-size="9.4" dx="-0.4">4</tspan></text>
<text x="4.7" y="221.6" font-size="11.8">10<tspan font-size="9.4" dy="-4.7" dx="-0.5">−</tspan><tspan font-size="9.4" dx="-0.4">5</tspan></text>
<text x="4.7" y="255.4" font-size="11.8">10<tspan font-size="9.4" dy="-4.7" dx="-0.5">−</tspan><tspan font-size="9.4" dx="-0.4">6</tspan></text>
<text x="88.1" y="169.1" font-size="14.2">L=10</text>
<text x="88.1" y="195.5" font-size="14.2">L=10<tspan font-size="10.4" dy="-5.5" dx="0.1">2</tspan></text>
<text x="88.1" y="221.9" font-size="14.2">L=10<tspan font-size="10.4" dy="-5.5" dx="0.1">3</tspan></text>
<text x="88.1" y="248.3" font-size="14.2">L=10<tspan font-size="10.4" dy="-5.5" dx="0.1">4</tspan></text>
</g>
</svg>
</body></html>
